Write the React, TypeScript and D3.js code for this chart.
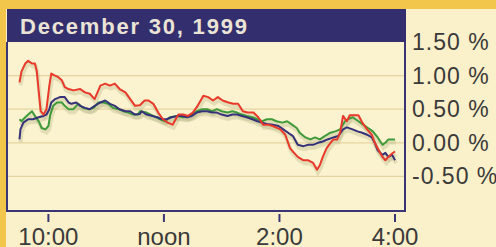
import React from "react";
import * as d3 from "d3";

const title = "December 30, 1999";
const xTickMinutes = [30, 150, 270, 390];
const xTickLabels = ["10:00", "noon", "2:00", "4:00"];
const yTickValues = [1.5, 1.0, 0.5, 0.0, -0.5];
const yTickLabels = ["1.50 %", "1.00 %", "0.50 %", "0.00 %", "-0.50 %"];

// minutes after 9:30, percent change
const redTimes = [0, 2, 6, 9, 13, 16, 18, 20, 22, 25, 28, 31, 33, 37, 40, 44, 47, 51, 56, 63, 68, 73, 78, 84, 89, 94, 99, 104, 110, 115, 120, 125, 130, 134, 139, 144, 149, 154, 159, 165, 170, 175, 180, 185, 191, 196, 201, 206, 211, 217, 222, 227, 232, 237, 243, 248, 253, 258, 263, 271, 276, 281, 284, 289, 295, 300, 305, 309, 312, 315, 319, 323, 326, 330, 333, 336, 340, 343, 352, 356, 361, 366, 369, 372, 377, 380, 383, 387, 390];
const redValues = [0.9, 1.06, 1.18, 1.22, 1.18, 1.18, 1.06, 0.76, 0.47, 0.42, 0.5, 0.85, 1.03, 1.0, 0.98, 0.93, 0.83, 0.8, 0.78, 0.8, 0.75, 0.73, 0.65, 0.85, 0.88, 0.85, 0.88, 0.8, 0.75, 0.65, 0.55, 0.56, 0.63, 0.63, 0.58, 0.45, 0.35, 0.3, 0.27, 0.42, 0.42, 0.4, 0.45, 0.55, 0.7, 0.68, 0.63, 0.68, 0.63, 0.6, 0.58, 0.58, 0.47, 0.45, 0.45, 0.38, 0.27, 0.27, 0.25, 0.2, 0.12, -0.08, -0.13, -0.21, -0.26, -0.26, -0.3, -0.4, -0.33, -0.21, -0.08, 0.0, 0.05, 0.05, 0.15, 0.4, 0.32, 0.41, 0.41, 0.3, 0.2, 0.12, 0.0, -0.08, -0.21, -0.26, -0.21, -0.16, -0.13];

const blueTimes = [0, 1, 4, 9, 14, 20, 25, 28, 31, 33, 37, 42, 47, 51, 54, 59, 63, 68, 73, 78, 84, 89, 94, 99, 104, 110, 115, 120, 125, 127, 132, 138, 143, 148, 153, 158, 164, 169, 174, 179, 184, 190, 195, 200, 205, 210, 216, 221, 226, 231, 236, 242, 247, 252, 257, 263, 269, 274, 279, 284, 289, 295, 300, 305, 310, 315, 320, 326, 331, 336, 340, 346, 351, 356, 361, 366, 369, 372, 377, 380, 383, 387, 390];
const blueValues = [0.05, 0.2, 0.3, 0.35, 0.35, 0.38, 0.4, 0.42, 0.5, 0.6, 0.65, 0.68, 0.68, 0.6, 0.58, 0.6, 0.55, 0.52, 0.5, 0.55, 0.6, 0.63, 0.58, 0.55, 0.5, 0.47, 0.47, 0.42, 0.43, 0.47, 0.42, 0.4, 0.38, 0.35, 0.35, 0.38, 0.4, 0.4, 0.38, 0.4, 0.45, 0.47, 0.47, 0.45, 0.45, 0.42, 0.4, 0.42, 0.42, 0.4, 0.38, 0.35, 0.32, 0.3, 0.28, 0.27, 0.25, 0.2, 0.15, 0.1, -0.03, -0.05, -0.03, -0.03, 0.0, 0.02, 0.05, 0.08, 0.1, 0.2, 0.23, 0.2, 0.17, 0.15, 0.12, 0.08, 0.0, -0.11, -0.18, -0.15, -0.21, -0.18, -0.26];

const greenTimes = [0, 2, 6, 9, 13, 16, 20, 23, 27, 30, 32, 35, 39, 44, 47, 51, 56, 61, 66, 72, 77, 82, 87, 92, 97, 103, 108, 113, 118, 123, 125, 132, 139, 146, 151, 156, 164, 170, 177, 184, 190, 195, 200, 205, 210, 216, 221, 226, 231, 236, 242, 247, 252, 257, 262, 267, 273, 278, 283, 288, 291, 297, 302, 307, 312, 317, 323, 328, 333, 338, 341, 346, 352, 357, 362, 367, 372, 377, 380, 383, 387, 390];
const greenValues = [0.35, 0.32, 0.38, 0.42, 0.47, 0.4, 0.32, 0.22, 0.2, 0.25, 0.42, 0.55, 0.6, 0.6, 0.55, 0.5, 0.5, 0.58, 0.52, 0.5, 0.52, 0.6, 0.6, 0.58, 0.52, 0.5, 0.47, 0.45, 0.42, 0.42, 0.47, 0.45, 0.4, 0.35, 0.32, 0.38, 0.4, 0.38, 0.4, 0.47, 0.5, 0.5, 0.47, 0.5, 0.47, 0.45, 0.47, 0.45, 0.42, 0.4, 0.38, 0.35, 0.32, 0.35, 0.35, 0.32, 0.3, 0.32, 0.27, 0.22, 0.15, 0.08, 0.05, 0.08, 0.05, 0.1, 0.15, 0.17, 0.2, 0.32, 0.35, 0.38, 0.32, 0.27, 0.22, 0.17, 0.08, -0.03, 0.0, 0.05, 0.05, 0.05];

const W = 496;
const H = 247;
const plotLeft = 7;
const plotRight = 405;
const plotTop = 42;
const plotBottom = 211;

export default function App() {
  const x = d3.scaleLinear().domain([0, 390]).range([19.5, 395]);
  const y = d3.scaleLinear().domain([-1.0, 1.5]).range([210, 42]);

  const mk = (times: number[], vals: number[]) =>
    d3
      .line<number>()
      .x((_, i) => x(times[i]))
      .y((v) => y(v))(vals) || "";

  const series = [
    { d: mk(greenTimes, greenValues), color: "#3f9a3a" },
    { d: mk(blueTimes, blueValues), color: "#363279" },
    { d: mk(redTimes, redValues), color: "#e8392a" },
  ];

  const fontFamily = "'Liberation Sans', Arial, sans-serif";

  return (
    <div style={{ position: "fixed", left: 0, top: 0 }}>
      <svg width={W} height={H} style={{ display: "block" }}>
        <rect x={0} y={0} width={W} height={H} fill="#faf0c9" />
        <rect x={0} y={0} width={W} height={9} fill="#f2c64a" />
        <rect x={0} y={0} width={6} height={H} fill="#f2c64a" />
        <rect x={plotLeft} y={plotTop} width={plotRight - plotLeft} height={plotBottom - plotTop} fill="#fbf2cf" />
        {yTickValues.slice(1).map((v) => (
          <line key={v} x1={plotLeft} x2={plotRight} y1={y(v)} y2={y(v)} stroke="#e4d49f" strokeWidth={1.2} />
        ))}
        {series.map((s, i) => (
          <path key={"sh" + i} d={s.d} fill="none" stroke="#b8b888" strokeOpacity={0.35} strokeWidth={4} transform="translate(1,3)" />
        ))}
        {series.map((s, i) => (
          <path key={i} d={s.d} fill="none" stroke={s.color} strokeWidth={2} strokeLinejoin="round" />
        ))}
        <rect x={plotLeft} y={9} width={plotRight - plotLeft + 1} height={plotTop - 9} fill="#332f6e" />
        <text x={20} y={34} fill="#ebe4d6" fontFamily={fontFamily} fontWeight="bold" fontSize={22} letterSpacing={1.8}>
          {title}
        </text>
        <path
          d={`M${plotLeft},${plotTop} V${plotBottom} H${plotRight} V${plotTop}`}
          fill="none"
          stroke="#3a3574"
          strokeWidth={2}
        />
        {xTickMinutes.map((t, i) => (
          <g key={t}>
            <line x1={x(t)} x2={x(t)} y1={214} y2={222} stroke="#3a3574" strokeWidth={2} />
            <text x={x(t)} y={245} textAnchor="middle" fill="#3a3a3a" fontFamily={fontFamily} fontSize={24}>
              {xTickLabels[i]}
            </text>
          </g>
        ))}
        {yTickValues.map((v, i) => (
          <text key={v} x={412} y={y(v) + 8} fill="#3a3a3a" fontFamily={fontFamily} fontSize={23} letterSpacing={1}>
            {yTickLabels[i]}
          </text>
        ))}
      </svg>
    </div>
  );
}
